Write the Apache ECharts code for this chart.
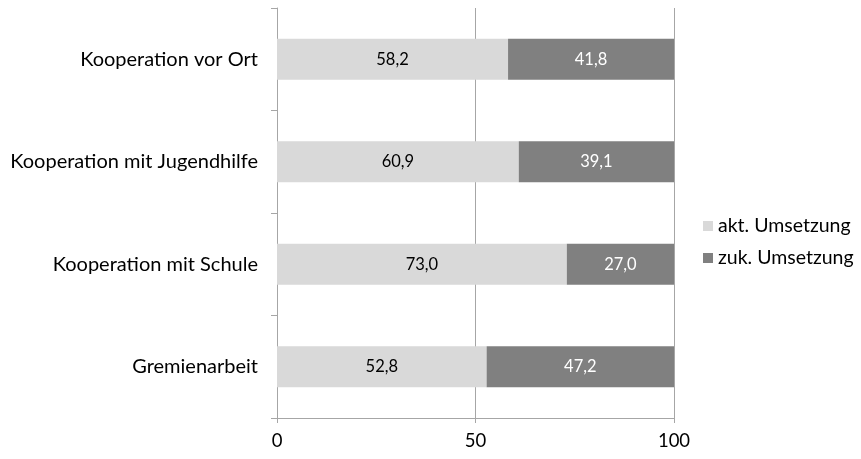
<!DOCTYPE html>
<html><head><meta charset="utf-8">
<script src="https://cdn.jsdelivr.net/npm/echarts@6/dist/echarts.min.js"></script>
<style>html,body{margin:0;padding:0;background:#fff}#c{width:861px;height:459px}</style>
</head><body><div id="c"></div>
<script>
const categories = ['Kooperation vor Ort','Kooperation mit Jugendhilfe','Kooperation mit Schule','Gremienarbeit'];
const aktValues = [58.2, 60.9, 73.0, 52.8];
const zukValues = [41.8, 39.1, 27.0, 47.2];
const seriesNames = ['akt. Umsetzung','zuk. Umsetzung'];
const FONT = 'Lato';
const chart = echarts.init(document.getElementById('c'), null, {renderer:'canvas'});
const fmt = p => p.value.toFixed(1).replace('.', ',');
chart.setOption({
  animation:false,
  textStyle:{fontFamily:FONT},
  grid:{left:277,right:187,top:8,bottom:41,containLabel:false},
  legend:{orient:'vertical',left:698,top:211,itemWidth:10,itemHeight:10,itemGap:12,
    icon:'rect',textStyle:{fontFamily:FONT,fontSize:19.5,color:'#000'},data:seriesNames},
  xAxis:{type:'value',min:0,max:100,interval:50,
    axisLine:{show:true,lineStyle:{color:'#a6a6a6'}},
    axisTick:{show:true,length:5,lineStyle:{color:'#a6a6a6'}},
    axisLabel:{fontFamily:FONT,fontSize:18.5,color:'#000',margin:14},
    splitLine:{show:true,lineStyle:{color:'#a6a6a6'}}},
  yAxis:{type:'category',inverse:true,data:categories,
    axisLine:{show:true,lineStyle:{color:'#a6a6a6'}},
    axisTick:{show:true,length:6,lineStyle:{color:'#a6a6a6'}},
    axisLabel:{fontFamily:FONT,fontSize:20,color:'#000',margin:19}},
  series:[
    {name:seriesNames[0],type:'bar',stack:'a',data:aktValues,barWidth:'40%',
     itemStyle:{color:'#d9d9d9'},
     label:{show:true,position:'inside',formatter:fmt,color:'#000',fontFamily:FONT,fontSize:16.5}},
    {name:seriesNames[1],type:'bar',stack:'a',data:zukValues,barWidth:'40%',
     itemStyle:{color:'#808080'},
     label:{show:true,position:'inside',formatter:fmt,color:'#fff',fontFamily:FONT,fontSize:16.5}}
  ]
});
</script></body></html>
